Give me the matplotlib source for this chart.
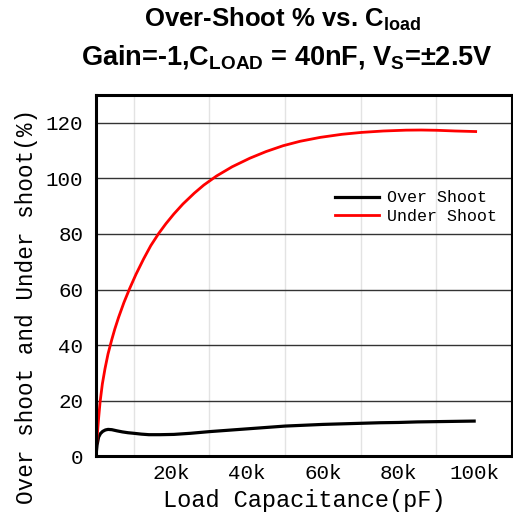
import matplotlib
matplotlib.use("Agg")
import matplotlib.pyplot as plt

# Over shoot (black) and under shoot (red) vs load capacitance, pF
over_x = [0, 300, 700, 1200, 1800, 2500, 3200, 4200, 5500, 7000, 8500, 10000,
          12000, 14000, 17000, 20600, 25000, 30000, 35000, 40000, 45000, 50000,
          55000, 60000, 65000, 70000, 75000, 80000, 85000, 90000, 95000, 100000]
over_y = [0, 4, 6.8, 8.1, 8.9, 9.4, 9.6, 9.5, 9.1, 8.7, 8.4, 8.2,
          7.9, 7.7, 7.7, 7.8, 8.2, 8.8, 9.3, 9.8, 10.3, 10.8,
          11.1, 11.4, 11.6, 11.8, 12.0, 12.1, 12.3, 12.4, 12.5, 12.6]

under_x = [0, 300, 700, 1100, 1700, 2400, 3200, 4200, 5000, 6000, 7400, 8900,
           10600, 12600, 14500, 16600, 18500, 20600, 23000, 26000, 28500, 31900,
           36000, 40700, 45000, 49500, 54000, 59300, 65000, 70300, 76000, 82000,
           86000, 90200, 95000, 100400]
under_y = [0, 6.5, 13.5, 19.5, 26, 31.5, 36.8, 42, 45.8, 50, 55.3, 60.3,
           65.5, 71, 75.8, 80.2, 83.7, 87.2, 90.8, 94.7, 97.6, 100.9,
           104.2, 107.3, 109.7, 111.8, 113.4, 114.8, 115.9, 116.6, 117.1, 117.4,
           117.45, 117.35, 117.1, 116.9]

x_ticks = [20000, 40000, 60000, 80000, 100000]
x_ticklabels = ["20k", "40k", "60k", "80k", "100k"]
x_minor = [10000, 30000, 50000, 70000, 90000]
y_ticks = [0, 20, 40, 60, 80, 100, 120]

plt.rcParams["mathtext.fontset"] = "custom"
plt.rcParams["mathtext.bf"] = "Liberation Sans:bold"
plt.rcParams["mathtext.rm"] = "Liberation Sans:bold"
plt.rcParams["mathtext.default"] = "bf"

mono = "Liberation Mono"

fig = plt.figure(figsize=(5.13, 5.23), dpi=100)
ax = fig.add_axes([0.187, 0.128, 0.811, 0.690])

ax.plot(over_x, over_y, color="black", lw=2.3, label="Over Shoot",
        solid_joinstyle="round")
ax.plot(under_x, under_y, color="#ff0000", lw=2.0, label="Under Shoot",
        solid_joinstyle="round")

ax.set_xlim(0, 110000)
ax.set_ylim(0, 130)
ax.set_xticks(x_ticks)
ax.set_xticklabels(x_ticklabels, family=mono, fontsize=15)
ax.set_xticks(x_minor, minor=True)
ax.set_yticks(y_ticks)
ax.set_yticklabels([str(v) for v in y_ticks], family=mono, fontsize=15)
ax.tick_params(which="both", length=0)
ax.tick_params(axis="y", pad=9)
ax.tick_params(axis="x", pad=6)

ax.grid(axis="y", which="major", color="#333333", lw=1.0)
ax.grid(axis="x", which="minor", color="#e3e3e3", lw=1.0)
ax.set_axisbelow(True)
for s in ax.spines.values():
    s.set_linewidth(2.2)

ax.set_xlabel("Load Capacitance(pF)", family=mono, fontsize=17, labelpad=4)
ax.set_ylabel("Over shoot and Under shoot(%)", family=mono, fontsize=16.3)
ax.yaxis.set_label_coords(-0.14, 0.415)

ax.legend(loc="center right", bbox_to_anchor=(1.0, 0.69), frameon=False,
          prop={"family": mono, "size": 12}, handlelength=2.6,
          handletextpad=0.5, labelspacing=0.2)

fig.text(0.55, 0.962, "Over-Shoot % vs. C$_{load}$", ha="center", va="center",
         fontsize=18.5, fontweight="bold", family="Liberation Sans")
fig.text(0.56, 0.891, "Gain=-1,C$_{LOAD}$ = 40nF, V$_{S}$=\u00b12.5V", ha="center",
         va="center", fontsize=19.5, fontweight="bold", family="Liberation Sans")

fig.savefig("out.png", dpi=100)
